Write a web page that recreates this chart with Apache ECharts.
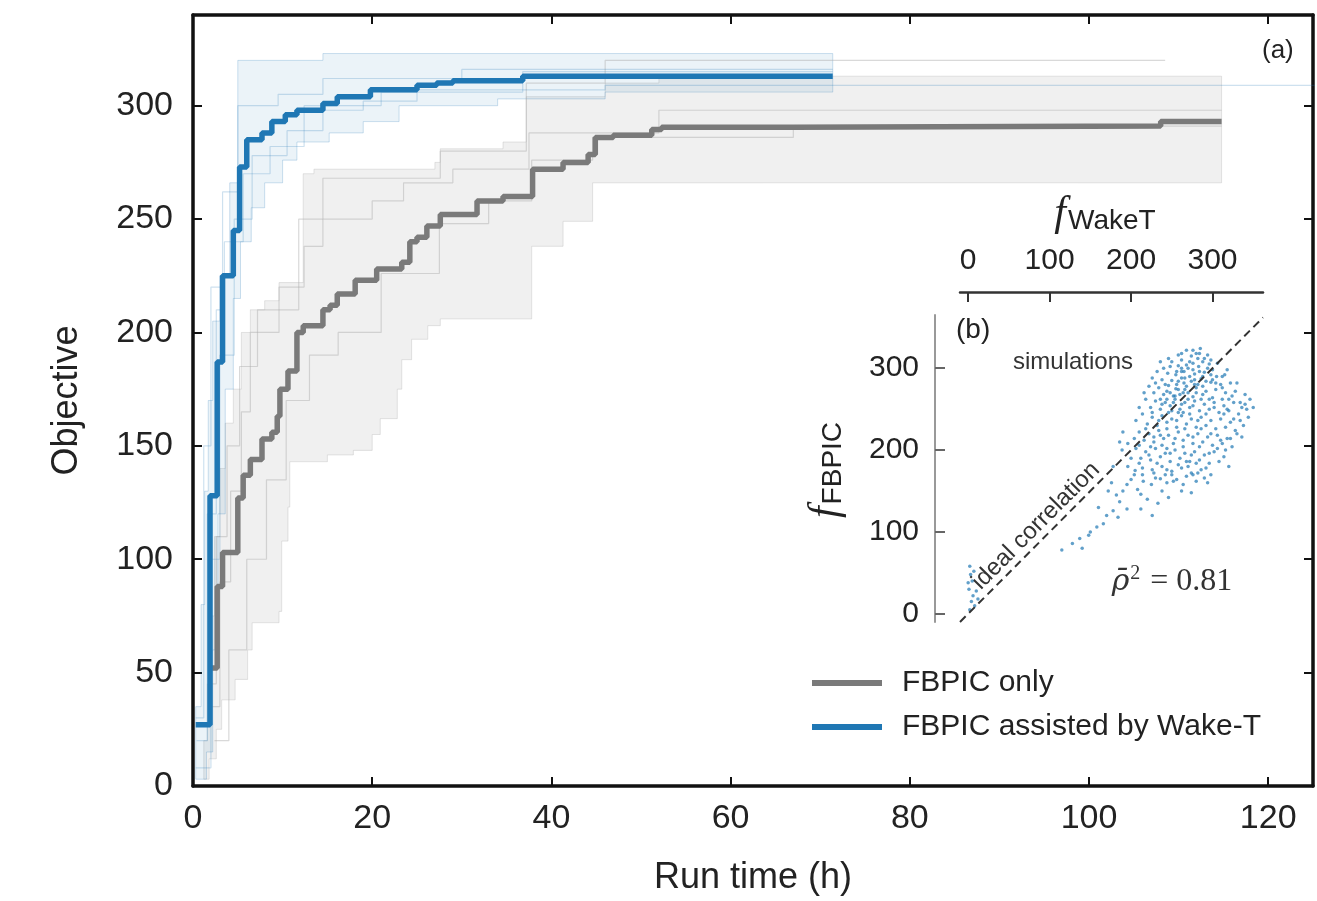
<!DOCTYPE html>
<html>
<head>
<meta charset="utf-8">
<script src="https://cdn.jsdelivr.net/npm/echarts@6/dist/echarts.min.js"></script>
<style>
html, body { margin: 0; padding: 0; background: #fff; }
#chart { width: 1317px; height: 901px; }
</style>
</head>
<body>
<div id="chart"></div>
<script>
// main panel (a): step points [run time h, objective], value changes at x
var blueMean = [[0.3,27],[1.9,128],[2.7,187],[3.3,225],[4.5,245],[5.2,273],[6.0,285],[7.7,288],[8.8,293],[10.3,296],[11.6,298],[14.5,301],[16.1,304],[19.8,307],[25,309],[27.2,310],[29,311],[36.8,313],[71.4,313]];
var grayMean = [[1.8,52],[2.7,88],[3.3,103],[5.0,127],[5.6,137],[6.4,144],[7.7,153],[8.8,156],[9.4,163],[9.7,175],[10.6,183],[11.6,200],[12.3,203],[14.5,210],[15.3,212],[16.1,217],[18.1,223],[20.5,228],[23.3,231],[24.2,240],[25,242],[26.1,247],[27.6,252],[31.7,258],[34.6,260],[37.9,272],[41.3,275],[44.1,278.5],[44.9,286],[46.9,287],[51.2,289.5],[52.3,290.5],[67,291],[108,293],[114.8,293]];

var blueLower = [[0.3,3],[1.5,15],[2.2,60],[2.8,120],[3.6,175],[4.5,215],[5.3,240],[6.5,255],[8.0,266],[10.0,276],[11.6,284],[15.2,288],[19,293],[23,300],[34,303],[46,306],[71.4,306]];
var blueUpper = [[0.3,35],[0.9,80],[1.3,130],[1.7,170],[2.2,205],[3.0,225],[4.1,266],[5.0,320],[14.5,323],[71.4,323]];
var grayLower = [[1.2,3],[1.8,12],[2.6,25],[3.2,38],[4.7,47],[6.1,60],[6.6,72],[9.6,77],[9.9,108],[10.6,123],[10.8,143],[15,146],[17.9,148],[20,155],[20.9,162],[22.8,175],[23.3,188],[24.4,197],[26.2,203],[27.6,206],[37.8,238],[41.3,249],[44.6,266],[114.8,266]];
var grayUpper = [[1.2,20],[1.6,45],[2.0,75],[2.4,110],[3.0,140],[3.6,160],[4.5,175],[5.4,200],[6.4,210],[8.0,214],[9.6,222],[12.3,270],[13.5,272],[27,275],[27.6,281],[34.6,284],[37.2,304],[46,310],[52,313],[114.8,313]];

var blueRunA = [[0.3,8],[2.0,100],[3.0,190],[4.6,250],[6.6,278],[10.5,289],[14.5,298],[19,302],[25,307],[46,309],[126,309]];
var blueRunB = [[0.4,20],[1.6,120],[2.6,210],[3.5,240],[5.6,270],[8.6,282],[12.4,300],[21,306],[36.8,315],[71.4,315]];
var blueRunC = [[0.3,30],[1.2,150],[2.0,220],[3.3,262],[5.0,300],[9.5,305],[14.5,312],[30,316],[71.4,316]];
var grayRunA = [[2.0,35],[3.0,90],[4.2,130],[5.4,165],[6.4,200],[9.6,220],[12.4,238],[14.5,250],[20,258],[23.5,266],[29,272],[37.5,288],[52,298],[114.8,298]];
var grayRunB = [[2.4,20],[4.0,60],[6.0,100],[8.2,135],[10.4,170],[13,190],[16.2,200],[21,226],[27.5,248],[33,258],[37.8,276],[44.6,286],[67,291],[114.8,291]];
var grayRunC = [[1.8,45],[2.6,110],[3.8,150],[5.2,185],[7.2,210],[11.8,250],[14.5,268],[27.6,280],[37.2,310],[46,320],[108.5,320]];

// inset (b): [f_WakeT, f_FBPIC]
var insetTicks = [0, 100, 200, 300];
var idealLine = [[-10,-10],[362,362]];
var simPoints = [
  [2,58],[3,48],[5,40],[1,30],[6,22],[4,15],[8,10],[2,5],[10,28],[12,18],[0,38],[7,52],
  [140,80],[137,92],[150,100],[158,106],[166,110],[178,126],[186,137],[195,128],[220,140],[233,135],[176,160],[178,180],[189,200],[200,164],[172,150],[208,152],[214,170],[160,130],[182,145],[195,158],[205,175],[215,162],[225,158],[236,165],[244,160],[250,170],[228,172],
  [268,322],[280,318],[285,324],[274,315],[290,312],
  [250,308],[262,310],[276,306],[288,308],[296,305],[258,303],[270,300],[283,302],[300,298],[240,300],
  [232,296],[245,294],[255,292],[265,296],[278,293],[290,295],[305,290],[315,292],[226,288],[238,286],[250,285],[262,288],[274,284],[286,287],[298,283],[310,280],[322,282],
  [222,278],[234,276],[246,279],[258,274],[268,278],[280,276],[292,272],[304,274],[316,270],[328,272],[340,268],[228,270],[240,268],[252,266],[264,270],[276,265],[288,268],[300,264],[312,262],[346,262],
  [218,262],[230,260],[242,258],[254,262],[266,258],[278,260],[290,256],[302,258],[314,254],[326,258],[336,252],[224,252],[236,250],[248,254],[260,250],[272,252],[284,248],[296,250],[308,246],[320,248],[332,244],[342,250],
  [214,244],[226,240],[238,242],[250,238],[262,242],[274,238],[286,240],[298,236],[310,238],[322,234],[334,236],[220,232],[232,230],[244,234],[256,228],[268,232],[280,228],[292,230],[304,226],[316,228],[328,224],[338,230],
  [210,222],[222,220],[234,224],[246,218],[258,222],[270,218],[282,220],[294,216],[306,218],[318,214],[330,220],[216,212],[228,210],[240,214],[252,208],[264,212],[276,208],[288,210],[300,206],[312,208],[324,204],
  [206,202],[218,198],[230,202],[242,196],[254,200],[266,196],[278,198],[290,194],[302,198],[314,192],[212,190],[224,188],[236,192],[248,186],[260,190],[272,186],[284,188],[296,184],[308,186],[320,180],
  [214,178],[226,176],[238,180],[250,174],[262,178],[274,172],[286,176],[298,170],[230,166],[242,170],[256,164],[268,168],[280,162],[290,166],
  [255,275],[265,282],[272,290],[260,268],[282,280],[270,262],[248,270],[262,296],[276,298],[258,284],[266,274],[278,286],[288,278],[252,258],[264,246],[276,254],[286,262],[244,262],[270,270],[280,270],[258,246],[250,248],[292,284],[268,304],[282,312],[262,318],[298,292],[242,280],[236,262],[296,262],
  [262,300],[272,308],[284,296],[294,300],[256,280],[266,288],[278,280],[288,290],[300,286],[312,276],[324,266],[334,258],[244,272],[254,266],[262,256],[272,244],[282,236],[292,244],[302,252],[314,244],[326,238],[238,256],[246,246],[256,236],[266,226],[276,216],[286,226],[298,220],[310,212],[226,246],[234,236],[244,226],[254,214],[264,204],[274,194],[284,204],[296,196],[306,202],[218,226],[228,216],[238,206],[248,196],[258,182],[270,180],[280,184],[292,178],[222,194],[232,184],[244,176],[252,162],[264,158],[276,170],[210,184],[204,170],[196,180],[200,190],[210,206],[204,214],[196,208],[316,200],[322,214],[336,216],[344,240],[340,256],[350,252],[330,282],[318,298],[306,306],[294,316],[276,322],[258,316],[246,312],[236,308],[230,282],[216,270],[210,252],[206,236],[190,222],[186,210],[256,296],[248,302],[284,318],[298,310],[304,282],[312,290],[320,262],[318,250],[236,218],[244,202],[224,204],[268,186],[282,172],[294,160],[238,150],[246,142],[262,150],[274,148],[212,146],[190,150],[184,118],[170,120],[148,96],[128,86],[115,78],[212,128],[226,120]
];

var SANS = 'Liberation Sans';
var SERIF = 'Liberation Serif';

function stepPath(api, pts) {
    var out = [];
    for (var i = 0; i < pts.length; i++) {
        var nx = i + 1 < pts.length ? pts[i + 1][0] : pts[i][0];
        out.push(api.coord([pts[i][0], pts[i][1]]));
        out.push(api.coord([nx, pts[i][1]]));
    }
    return out;
}

function band(name, lower, upper, fill, edge, z) {
    return {
        name: name,
        type: 'custom',
        xAxisIndex: 0,
        yAxisIndex: 0,
        clip: true,
        silent: true,
        z: z,
        data: [[0, 0]],
        renderItem: function (params, api) {
            var top = stepPath(api, upper);
            var bot = stepPath(api, lower).reverse();
            return {
                type: 'polygon',
                shape: { points: top.concat(bot) },
                style: { fill: fill, stroke: edge, lineWidth: 1 }
            };
        }
    };
}

function run(data, color, z) {
    return {
        type: 'line', step: 'end', data: data, showSymbol: false, silent: true,
        xAxisIndex: 0, yAxisIndex: 0, z: z,
        lineStyle: { color: color, width: 1.2 }
    };
}

var frame = { show: true, onZero: false, lineStyle: { color: '#111', width: 3.5 } };
var inTick = { show: true, inside: true, length: 9, lineStyle: { color: '#111', width: 2 } };
var tickFont = { fontFamily: SANS, fontSize: 34, color: '#222' };

var myChart = echarts.init(document.getElementById('chart'), null, { renderer: 'canvas' });

var option = {
    backgroundColor: '#fff',
    animation: false,
    grid: [
        { left: 193, top: 15, width: 1120, height: 773 },
        { left: 960, top: 315, width: 303, height: 307 }
    ],
    xAxis: [
        {
            type: 'value', gridIndex: 0, min: 0, max: 125, interval: 20,
            axisLine: frame, axisTick: inTick, splitLine: { show: false },
            axisLabel: Object.assign({ margin: 16, showMaxLabel: false }, tickFont),
            name: 'Run time (h)', nameLocation: 'middle', nameGap: 74,
            nameTextStyle: { fontFamily: SANS, fontSize: 36, color: '#222' }
        },
        {
            type: 'value', gridIndex: 0, position: 'top', min: 0, max: 125, interval: 20,
            axisLine: frame, axisTick: inTick, splitLine: { show: false }, axisLabel: { show: false }
        },
        {
            type: 'value', gridIndex: 1, position: 'top', offset: 23, min: -10, max: 362,
            axisLine: { show: true, onZero: false, lineStyle: { color: '#333', width: 2.5 } },
            axisTick: { show: true, inside: true, length: 10, customValues: insetTicks, lineStyle: { color: '#333', width: 2 } },
            axisLabel: { customValues: insetTicks, margin: 16, fontFamily: SANS, fontSize: 30, color: '#222' },
            splitLine: { show: false }
        }
    ],
    yAxis: [
        {
            type: 'value', gridIndex: 0, min: 0, max: 340, interval: 50,
            axisLine: frame, axisTick: inTick, splitLine: { show: false },
            axisLabel: Object.assign({ margin: 20, showMaxLabel: false }, tickFont),
            name: 'Objective', nameLocation: 'middle', nameGap: 108,
            nameTextStyle: { fontFamily: SANS, fontSize: 36, color: '#222' }
        },
        {
            type: 'value', gridIndex: 0, position: 'right', min: 0, max: 340, interval: 50,
            axisLine: frame, axisTick: inTick, splitLine: { show: false }, axisLabel: { show: false }
        },
        {
            type: 'value', gridIndex: 1, position: 'left', offset: 25, min: -10, max: 365,
            axisLine: { show: true, onZero: false, lineStyle: { color: '#999', width: 2 } },
            axisTick: { show: true, inside: true, length: 10, customValues: insetTicks, lineStyle: { color: '#666', width: 2 } },
            axisLabel: { customValues: insetTicks, margin: 16, fontFamily: SANS, fontSize: 30, color: '#222' },
            splitLine: { show: false }
        }
    ],
    legend: {
        data: ['FBPIC only', 'FBPIC assisted by Wake-T'],
        orient: 'vertical',
        left: 812,
        top: 668,
        padding: 0,
        itemGap: 14,
        itemWidth: 70,
        itemHeight: 6,
        icon: 'rect',
        selectedMode: false,
        textStyle: { fontFamily: SANS, fontSize: 30, color: '#222', lineHeight: 30, padding: [0, 0, 0, 15] }
    },
    series: [
        band('grayBand', grayLower, grayUpper, 'rgba(225,225,225,0.5)', 'rgba(180,180,180,0.35)', 1),
        band('blueBand', blueLower, blueUpper, 'rgba(31,119,180,0.09)', 'rgba(31,119,180,0.22)', 2),
        run(grayRunA, 'rgba(170,170,170,0.45)', 3),
        run(grayRunB, 'rgba(170,170,170,0.45)', 3),
        run(grayRunC, 'rgba(170,170,170,0.45)', 3),
        run(blueRunA, 'rgba(31,119,180,0.22)', 4),
        run(blueRunB, 'rgba(31,119,180,0.22)', 4),
        run(blueRunC, 'rgba(31,119,180,0.22)', 4),
        {
            name: 'FBPIC only', type: 'line', step: 'end', data: grayMean,
            xAxisIndex: 0, yAxisIndex: 0, showSymbol: false, z: 5,
            itemStyle: { color: '#7a7a7a' },
            lineStyle: { color: '#7a7a7a', width: 5.5 }
        },
        {
            name: 'FBPIC assisted by Wake-T', type: 'line', step: 'end', data: blueMean,
            xAxisIndex: 0, yAxisIndex: 0, showSymbol: false, z: 6,
            itemStyle: { color: '#1f77b4' },
            lineStyle: { color: '#1f77b4', width: 5.5 }
        },
        {
            type: 'scatter', data: simPoints, xAxisIndex: 2, yAxisIndex: 2,
            symbolSize: 3.5, silent: true,
            itemStyle: { color: '#1f77b4', opacity: 0.7 }
        },
        {
            type: 'line', data: idealLine, xAxisIndex: 2, yAxisIndex: 2,
            showSymbol: false, silent: true, z: 4,
            lineStyle: { color: '#333', width: 2, type: [8, 5] }
        }
    ],
    graphic: [
        { type: 'text', left: 1262, top: 38, style: { text: '(a)', fontFamily: SANS, fontSize: 26, fill: '#222' } },
        {
            type: 'text', x: 1105, y: 214,
            style: {
                text: '{f|f}{s|WakeT}', align: 'center', verticalAlign: 'middle',
                rich: {
                    f: { fontFamily: SERIF, fontStyle: 'italic', fontSize: 42, fill: '#222' },
                    s: { fontFamily: SANS, fontSize: 28, fill: '#222', padding: [14, 0, 0, 2] }
                }
            }
        },
        {
            type: 'text', x: 826, y: 470, rotation: Math.PI / 2,
            style: {
                text: '{f|f}{s|FBPIC}', align: 'center', verticalAlign: 'middle',
                rich: {
                    f: { fontFamily: SERIF, fontStyle: 'italic', fontSize: 42, fill: '#222' },
                    s: { fontFamily: SANS, fontSize: 28, fill: '#222', padding: [14, 0, 0, 2] }
                }
            }
        },
        { type: 'text', x: 956, y: 316, style: { text: '(b)', fontFamily: SANS, fontSize: 28, fill: '#222' } },
        { type: 'text', x: 1073, y: 362, style: { text: 'simulations', align: 'center', verticalAlign: 'middle', fontFamily: SANS, fontSize: 24, fill: '#333' } },
        { type: 'text', x: 1036, y: 526, rotation: Math.PI / 4, style: { text: 'ideal correlation', align: 'center', verticalAlign: 'middle', fontFamily: SANS, fontSize: 24, fill: '#333' } },
        {
            type: 'text', x: 1172, y: 582,
            style: {
                text: '{r|ρ̄}{s|2}{n| = 0.81}', align: 'center', verticalAlign: 'middle',
                rich: {
                    r: { fontFamily: 'DejaVu Serif', fontStyle: 'italic', fontSize: 30, fill: '#333' },
                    s: { fontFamily: SERIF, fontSize: 20, fill: '#333', padding: [0, 2, 16, 1] },
                    n: { fontFamily: SERIF, fontSize: 32, fill: '#333' }
                }
            }
        }
    ]
};

myChart.setOption(option);
</script>
</body>
</html>
